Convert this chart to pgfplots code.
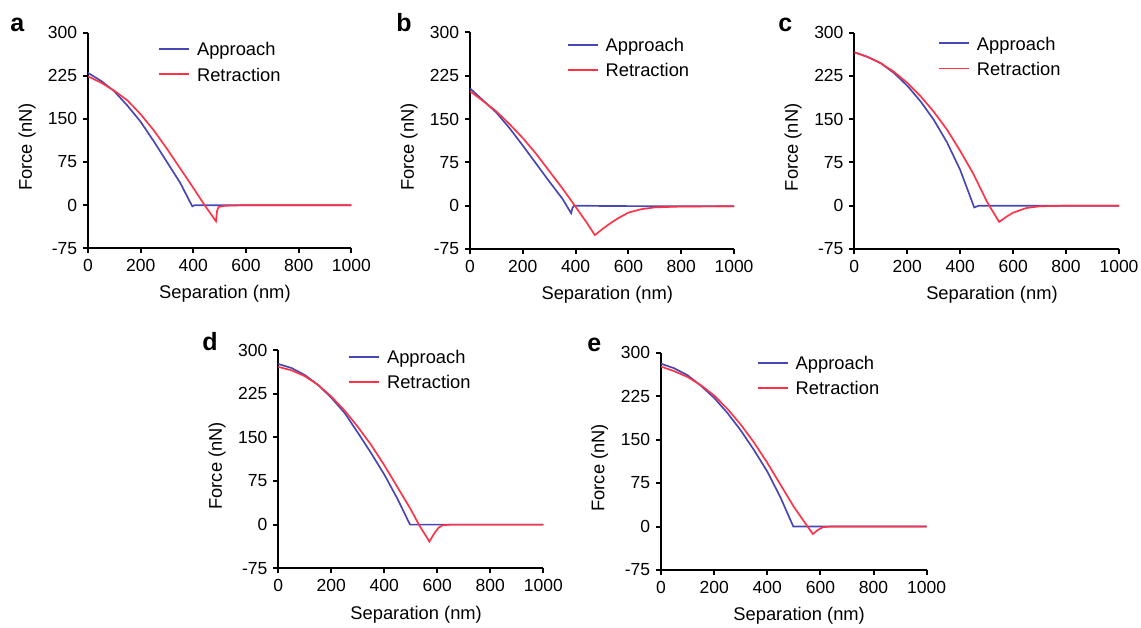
\documentclass[border=0pt]{standalone}
\usepackage{fontspec}
\setmainfont{Liberation Sans}
\usepackage{pgfplots}
\pgfplotsset{compat=1.18}
\definecolor{appblue}{RGB}{70,70,180}
\definecolor{retred}{RGB}{255,50,70}
\newcommand{\lbl}{\fontsize{10.5}{12}\selectfont}
\newcommand{\lbb}{\fontsize{11}{13}\selectfont}
\pgfplotsset{
  afm/.style={
    scale only axis,
    axis lines=left,
    axis line style={-, line width=1.3pt, black},
    xmin=0, xmax=1000, ymin=-75, ymax=300,
    xtick={0,200,400,600,800,1000},
    ytick={-75,0,75,150,225,300},
    minor tick num=0,
    tick align=outside,
    major tick length=3pt,
    tick style={black, line width=1.2pt},
    tick label style={font=\lbl},
    /pgf/number format/assume math mode=true,
    /pgf/number format/1000 sep={},
    label style={font=\lbb},
    xlabel={Separation (nm)},
    ylabel={Force (nN)},
    xlabel style={at={(axis description cs:0.52,-0.212)}, anchor=center},
    ylabel style={at={(axis description cs:-0.231,0.47)}, anchor=center},
    legend cell align=left,
    legend style={draw=none, fill=none, inner sep=0pt, font=\lbb,
      row sep=5.6pt, nodes={inner sep=0pt},
      /tikz/every odd column/.append style={column sep=4.2pt}},
    legend image code/.code={\draw[##1] (0pt,1pt) -- (18pt,1pt);},
    every axis plot/.append style={line width=1pt},
  },
}
\begin{document}
\begin{tikzpicture}
\useasboundingbox (0,0) rectangle (684.6pt,376.8pt);

% ---------------- a ----------------
\begin{axis}[afm, at={(52.8pt,227.8pt)}, anchor=south west, width=158.0pt, height=129.4pt,
  legend style={at={(axis cs:266,247)}, anchor=west}]
\addplot[appblue] coordinates {(0,230)(50,216)(100,198)(150,173)(200,145)(250,111)(300,75)(350,39)(396,-2)(405,0)(500,0)(600,0)(700,0)(800,0)(1000,0)};
\addplot[retred] coordinates {(0,224)(50,213)(100,199)(150,182)(200,158)(250,130)(300,98)(350,64)(400,30)(440,2)(486,-28)(490,-10)(496,-3)(520,-1)(600,0)(1000,0)};
\legend{Approach,Retraction}
\end{axis}

% ---------------- b ----------------
\begin{axis}[afm, at={(282.0pt,227.4pt)}, anchor=south west, width=158.4pt, height=130.0pt,
  legend style={at={(axis cs:366,254)}, anchor=west}]
\addplot[appblue] coordinates {(0,203)(50,182)(100,161)(150,134)(200,104)(250,73)(300,42)(350,12)(383,-13)(388,-4)(394,0)(500,-0.5)(700,-1)(1000,-1)};
\addplot[retred] coordinates {(0,198)(50,181)(100,163)(150,141)(200,117)(250,90)(300,60)(350,30)(400,-2)(440,-28)(473,-51)(500,-41)(530,-31)(560,-22)(600,-12)(650,-6)(700,-3)(800,-1.5)(1000,-1)};
\legend{Approach,Retraction}
\end{axis}

% ---------------- c ----------------
\begin{axis}[afm, at={(512.6pt,227.4pt)}, anchor=south west, width=158.8pt, height=129.8pt,
  legend style={at={(axis cs:316,257)}, anchor=west}]
\addplot[appblue] coordinates {(0,266)(50,258)(100,247)(150,230)(200,208)(250,181)(300,149)(350,110)(400,62)(453,-3)(470,0)(600,0)(1000,0)};
\addplot[retred] coordinates {(0,266)(50,258)(100,247)(150,232)(200,213)(250,190)(300,163)(350,132)(400,95)(450,55)(500,8)(510,0)(547,-28)(575,-19)(600,-12)(650,-4)(700,-1)(800,0)(1000,0)};
\legend{Approach,Retraction}
\end{axis}

% ---------------- d ----------------
\begin{axis}[afm, at={(167.0pt,35.8pt)}, anchor=south west, width=159.0pt, height=131.0pt,
  legend style={at={(axis cs:263,264)}, anchor=west}]
\addplot[appblue] coordinates {(0,276)(50,269)(100,257)(150,240)(200,218)(250,192)(300,158)(350,123)(400,86)(450,44)(497,0)(600,0)(1000,0)};
\addplot[retred] coordinates {(0,271)(50,265)(100,255)(150,240)(200,220)(250,196)(300,168)(350,137)(400,102)(450,64)(500,26)(533,-2)(570,-29)(590,-14)(605,-5)(620,-1)(650,0)(1000,0)};
\legend{Approach,Retraction}
\end{axis}

% ---------------- e ----------------
\begin{axis}[afm, at={(396.6pt,34.8pt)}, anchor=south west, width=159.4pt, height=130.4pt,
  legend style={at={(axis cs:360,258)}, anchor=west}]
\addplot[appblue] coordinates {(0,281)(50,273)(100,261)(150,243)(200,222)(250,196)(300,166)(350,132)(400,95)(450,50)(498,0)(600,0)(1000,0)};
\addplot[retred] coordinates {(0,276)(50,268)(100,258)(150,244)(200,226)(250,203)(300,176)(350,145)(400,110)(450,72)(500,34)(550,1)(572,-13)(590,-6)(610,-1)(640,0)(1000,0)};
\legend{Approach,Retraction}
\end{axis}

\begin{scope}[every node/.style={inner sep=0pt, anchor=base west, font=\fontsize{15}{18}\selectfont\bfseries}]
\node at (6pt,357.6pt) {a};
\node at (237.6pt,357.6pt) {b};
\node at (466.8pt,357.6pt) {c};
\node at (121.2pt,166.4pt) {d};
\node at (352.2pt,165.8pt) {e};
\end{scope}
\end{tikzpicture}
\end{document}
